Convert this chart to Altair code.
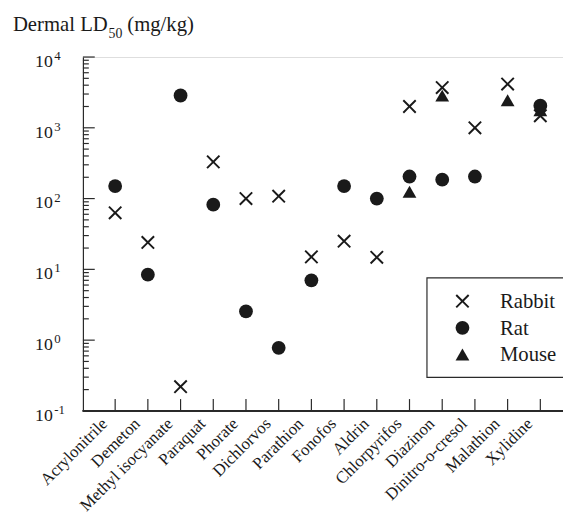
import altair as alt
import pandas as pd

categories = ["Acrylonitrile", "Demeton", "Methyl isocyanate", "Paraquat", "Phorate",
              "Dichlorvos", "Parathion", "Fonofos", "Aldrin", "Chlorpyrifos", "Diazinon",
              "Dinitro-o-cresol", "Malathion", "Xylidine"]
rabbit = [63, 24, 0.22, 330, 100, 108, 15, 25, 14.8, 2000, 3700, 1000, 4150, 1480]
rat = [150, 8.4, 2860, 82, 2.55, 0.78, 7.0, 150, 100, 205, 185, 205, None, 2050]
mouse = [None, None, None, None, None, None, None, None, None, 125, 2850, None, 2450, 1770]

species_order = ["Rabbit", "Rat", "Mouse"]
major_ticks = [0.1, 1, 10, 100, 1000, 10000]
major_exps = ["-1", "0", "1", "2", "3", "4"]
minor_ticks = [m * d for d in [0.1, 1, 10, 100, 1000] for m in range(2, 10)]

rows = []
for name, vals in [("Rabbit", rabbit), ("Mouse", mouse), ("Rat", rat)]:
    for c, v in zip(categories, vals):
        if v is not None:
            rows.append({"category": c, "value": v, "species": name})
df = pd.DataFrame(rows)
df_cat = pd.DataFrame({"category": categories})
df_major = pd.DataFrame({"v": major_ticks, "exp": major_exps})
df_minor = pd.DataFrame({"v": minor_ticks})

W, H = 487, 359
FONT = "Liberation Serif"
INK = "#1a1a1a"
AX = "#2a2a2a"

xpath = "M-1,-0.8L-0.8,-1L0,-0.2L0.8,-1L1,-0.8L0.2,0L1,0.8L0.8,1L0,0.2L-0.8,1L-1,0.8L-0.2,0Z"
shape_scale = alt.Scale(domain=species_order, range=[xpath, "circle", "triangle-up"])

xenc = alt.X("category:N", sort=categories,
             scale=alt.Scale(type="point", range=[32.7, 464], padding=0),
             axis=alt.Axis(title=None, labelAngle=-45, labelFont=FONT, labelFontSize=17,
                           labelColor=INK, ticks=False, domain=False, labelPadding=10,
                           labelOffset=-11, grid=False))
yscale = alt.Scale(type="log", domain=[0.1, 10000], nice=False)

points = alt.Chart(df).mark_point(filled=True, size=196, opacity=1, color=INK).encode(
    x=xenc,
    y=alt.Y("value:Q", scale=yscale,
            axis=alt.Axis(title=None, values=major_ticks, labels=False, ticks=False,
                          domainColor=AX, domainWidth=1.2, grid=False)),
    shape=alt.Shape("species:N", scale=shape_scale, legend=None),
)

xticks = alt.Chart(df_cat).mark_rule(color=AX, strokeWidth=1.2).encode(
    x=alt.X("category:N", sort=categories), y=alt.value(H - 12), y2=alt.value(H))

xaxis_line = alt.Chart(df_cat).mark_rule(color=AX, strokeWidth=1.2).encode(
    x=alt.value(0), x2=alt.value(W), y=alt.value(H))

ymajor = alt.Chart(df_major).mark_rule(color=AX, strokeWidth=1.2).encode(
    y=alt.Y("v:Q"), x=alt.value(0), x2=alt.value(12))
yminor = alt.Chart(df_minor).mark_rule(color=AX, strokeWidth=1.2).encode(
    y=alt.Y("v:Q"), x=alt.value(0), x2=alt.value(6))

ylab_base = alt.Chart(df_major).mark_text(
    text="10", font=FONT, fontSize=18, color=INK, align="right", baseline="alphabetic",
    dy=10).encode(y=alt.Y("v:Q"), x=alt.value(-30.5))
ylab_exp = alt.Chart(df_major).mark_text(
    font=FONT, fontSize=13, color=INK, align="left", baseline="alphabetic",
    dy=3).encode(y=alt.Y("v:Q"), x=alt.value(-29), text="exp:N")

t1 = alt.Chart(df_cat.head(1)).mark_text(
    text="Dermal LD", font=FONT, fontSize=21, color=INK, align="left",
    baseline="alphabetic").encode(x=alt.value(-71), y=alt.value(-26))
t2 = alt.Chart(df_cat.head(1)).mark_text(
    text="50", font=FONT, fontSize=14, color=INK, align="left",
    baseline="alphabetic").encode(x=alt.value(26), y=alt.value(-19))
t3 = alt.Chart(df_cat.head(1)).mark_text(
    text="(mg/kg)", font=FONT, fontSize=21, color=INK, align="left",
    baseline="alphabetic").encode(x=alt.value(45), y=alt.value(-26))

# legend (box, symbols, labels)
LX, LY, LB = 349, 224, 325
ROW0, ROWSTEP = 247.7, 27
legend_box = alt.Chart(df_cat.head(1)).mark_rect(
    fill="white", stroke=AX, strokeWidth=1.2).encode(
    x=alt.value(LX), x2=alt.value(W + 20), y=alt.value(LY), y2=alt.value(LB))
legend_layers = [legend_box]
for i, sp in enumerate(species_order):
    d = pd.DataFrame({"species": [sp]})
    ry = ROW0 + ROWSTEP * i
    legend_layers.append(
        alt.Chart(d).mark_point(filled=True, size=196, opacity=1, color=INK).encode(
            x=alt.value(385), y=alt.value(ry),
            shape=alt.Shape("species:N", scale=shape_scale, legend=None)))
    legend_layers.append(
        alt.Chart(d).mark_text(font=FONT, fontSize=21, color=INK, align="left",
                               baseline="alphabetic").encode(
            x=alt.value(423), y=alt.value(ry + 7), text="species:N"))

chart = alt.layer(xaxis_line, xticks, ymajor, yminor, ylab_base, ylab_exp,
                  points, t1, t2, t3, *legend_layers).properties(
    width=W, height=H,
    autosize=alt.AutoSizeParams(type="none"),
    padding={"left": 76, "top": 46, "right": 0, "bottom": 112},
).configure_view(stroke=None).configure(background="white", font=FONT)

chart.save("out.html", embed_options={"renderer": "svg", "actions": False})
